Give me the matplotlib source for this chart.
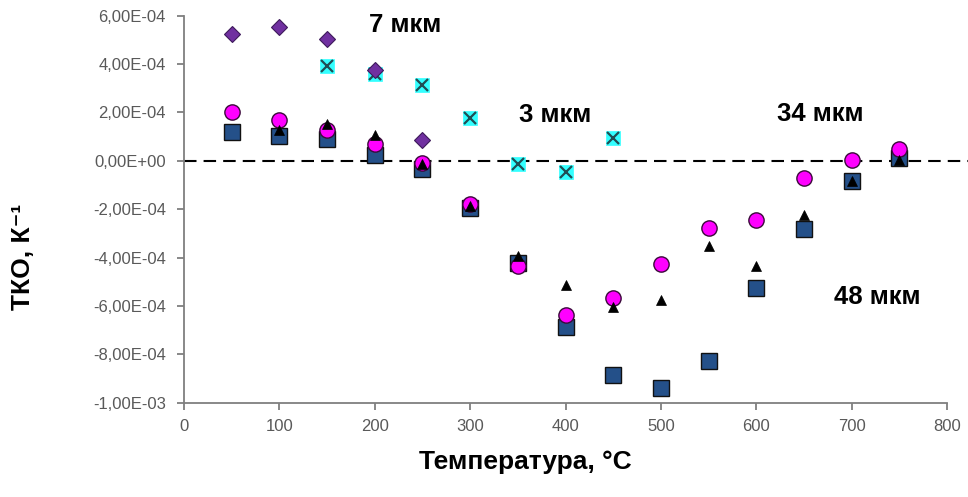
import matplotlib
matplotlib.use("Agg")
import matplotlib.pyplot as plt
from matplotlib.ticker import FixedLocator

plt.rcParams['font.family'] = ['Liberation Sans', 'DejaVu Sans']

# Temperature, °C
temps_7 = [50, 100, 150, 200, 250]
temps_3 = [150, 200, 250, 300, 350, 400, 450]
temps_34 = [50, 100, 150, 200, 250, 300, 350, 400, 450, 500, 550, 600, 650, 700, 750]
temps_48 = [50, 100, 150, 200, 250, 300, 350, 400, 450, 500, 550, 600, 650, 700, 750]
temps_tri = [100, 150, 200, 250, 300, 350, 400, 450, 500, 550, 600, 650, 700, 750]

# Temperature coefficient of resistance, 1/K
tcr_7 = [5.26e-4, 5.54e-4, 5.05e-4, 3.77e-4, 0.85e-4]
tcr_3 = [3.93e-4, 3.61e-4, 3.15e-4, 1.78e-4, -0.15e-4, -0.45e-4, 0.95e-4]
tcr_34 = [2.00e-4, 1.68e-4, 1.26e-4, 0.69e-4, -0.11e-4, -1.79e-4, -4.34e-4,
          -6.38e-4, -5.69e-4, -4.27e-4, -2.76e-4, -2.45e-4, -0.70e-4, 0.02e-4, 0.48e-4]
tcr_48 = [1.20e-4, 1.03e-4, 0.92e-4, 0.26e-4, -0.35e-4, -1.94e-4, -4.24e-4,
          -6.86e-4, -8.86e-4, -9.38e-4, -8.28e-4, -5.24e-4, -2.83e-4, -0.84e-4, 0.10e-4]
tcr_tri = [1.26e-4, 1.54e-4, 1.06e-4, -0.14e-4, -1.85e-4, -3.93e-4, -5.14e-4,
           -6.06e-4, -5.76e-4, -3.53e-4, -4.34e-4, -2.22e-4, -0.84e-4, 0.05e-4]

x_ticks = [0, 100, 200, 300, 400, 500, 600, 700, 800]
y_ticks = [6e-4, 4e-4, 2e-4, 0.0, -2e-4, -4e-4, -6e-4, -8e-4, -1e-3]
y_tick_labels = ["6,00E-04", "4,00E-04", "2,00E-04", "0,00E+00", "-2,00E-04",
                 "-4,00E-04", "-6,00E-04", "-8,00E-04", "-1,00E-03"]

# (text, x, y) for the thickness annotations
annotations = [("7 мкм", 232, 5.34e-4),
               ("3 мкм", 389, 1.62e-4),
               ("34 мкм", 667, 1.64e-4),
               ("48 мкм", 727, -5.9e-4)]

W, H, DPI = 968, 497, 100
fig = plt.figure(figsize=(W / DPI, H / DPI), dpi=DPI)
ax = fig.add_axes([184 / W, 1 - 402.7 / H, (947 - 184) / W, (402.7 - 15.7) / H])

ax.set_xlim(0, 800)
ax.set_ylim(-1e-3, 6e-4)

# zero reference line, running past the right end of the axis
ax.axhline(0, xmin=0, xmax=1.03, color='black', lw=1.5,
           linestyle=(0, (6.0, 3.4)), clip_on=False, zorder=2)

# 48 мкм: dark blue squares
ax.plot(temps_48, tcr_48, linestyle='none', marker='s', markersize=11,
        markerfacecolor='#245089', markeredgecolor='#111111', markeredgewidth=1.0, zorder=3)
# 34 мкм: magenta circles
ax.plot(temps_34, tcr_34, linestyle='none', marker='o', markersize=11,
        markerfacecolor='#FF00FF', markeredgecolor='#3a0a3a', markeredgewidth=1.0, zorder=4)
# black triangles
ax.plot(temps_tri, tcr_tri, linestyle='none', marker='^', markersize=7,
        markerfacecolor='black', markeredgecolor='black', markeredgewidth=0.5, zorder=5)
# 3 мкм: cyan squares with a cross
ax.plot(temps_3, tcr_3, linestyle='none', marker='s', markersize=10.5,
        markerfacecolor='#33FFFF', markeredgecolor='#33FFFF', markeredgewidth=0.5, zorder=6)
ax.plot(temps_3, tcr_3, linestyle='none', marker='x', markersize=9,
        markeredgecolor='#1f4f55', markeredgewidth=1.6, zorder=6.5)
# 7 мкм: purple diamonds
ax.plot(temps_7, tcr_7, linestyle='none', marker='D', markersize=8.2,
        markerfacecolor='#7030A0', markeredgecolor='#3d1a5a', markeredgewidth=0.8, zorder=7)

for text, tx, ty in annotations:
    ax.text(tx, ty, text, ha='center', va='baseline', fontsize=18.5,
            fontweight='bold', color='black', zorder=8)

ax.xaxis.set_major_locator(FixedLocator(x_ticks))
ax.yaxis.set_major_locator(FixedLocator(y_ticks))
ax.set_yticklabels(y_tick_labels)

for side in ('top', 'right'):
    ax.spines[side].set_visible(False)
for side in ('left', 'bottom'):
    ax.spines[side].set_color('#7f7f7f')
    ax.spines[side].set_linewidth(1.3)

ax.tick_params(axis='both', direction='out', length=5, width=1.3, color='#7f7f7f',
               labelsize=12, labelcolor='#595959')
ax.tick_params(axis='x', pad=7)
ax.tick_params(axis='y', pad=8)

fig.text(525 / W, 1 - 462 / H, "Температура, °C", ha='center', va='center',
         fontsize=19, fontweight='bold')
fig.text(22.5 / W, 1 - 256.5 / H, "ТКО, К⁻¹", ha='center', va='center',
         rotation=90, fontsize=19, fontweight='bold')

fig.savefig("out.png", dpi=DPI)
